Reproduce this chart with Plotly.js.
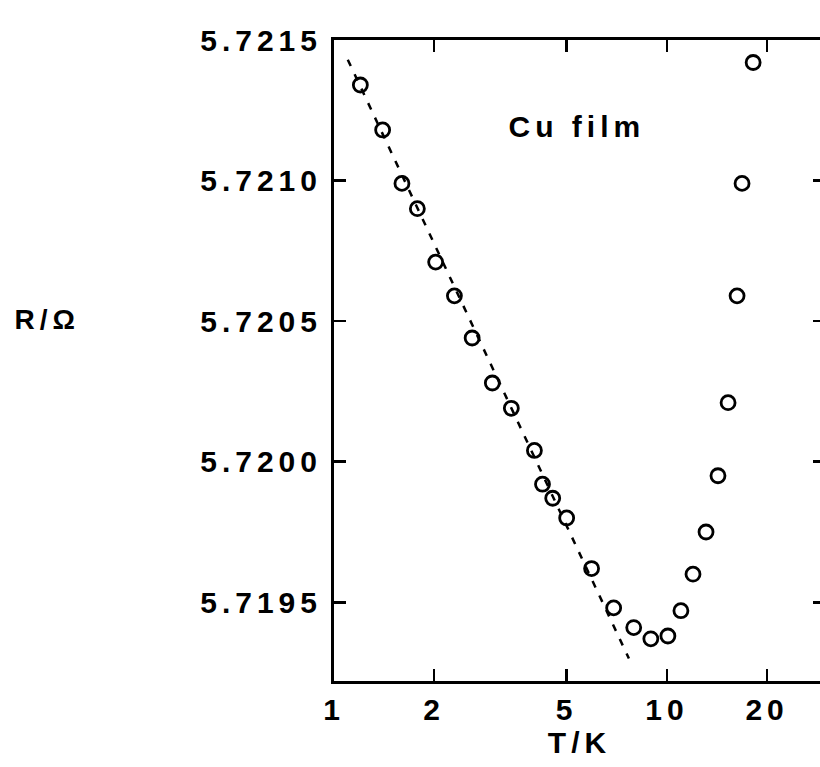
<!DOCTYPE html>
<html>
<head>
<meta charset="utf-8">
<script src="https://cdn.plot.ly/plotly-3.0.1.min.js"></script>
<style>
  html, body { margin: 0; padding: 0; overflow: hidden; background: #fff; }
  #chart { width: 830px; height: 767px; }
  .main-svg text { letter-spacing: 5px; }
</style>
</head>
<body>
<div id="chart"></div>
<script>
// Measured data: temperature T (K) and resistance R (Ohm)
const T = [1.20, 1.40, 1.60, 1.78, 2.02, 2.30, 2.60, 2.99, 3.41, 4.00, 4.23, 4.54, 5.00,
           5.94, 6.92, 7.95, 8.95, 10.07, 11.02, 11.98, 13.11, 14.24, 15.27, 16.25, 16.82, 18.16];
const R = [5.72134, 5.72118, 5.72099, 5.72090, 5.72071, 5.72059, 5.72044, 5.72028, 5.72019,
           5.72004, 5.71992, 5.71987, 5.71980, 5.71962, 5.71948, 5.71941, 5.71937, 5.71938,
           5.71947, 5.71960, 5.71975, 5.71995, 5.72021, 5.72059, 5.72099, 5.72142];
// Logarithmic fit line (dashed)
const fitT = [1.10, 7.69];
const fitR = [5.72143, 5.71930];
// Tick values and labels
const xTicks = [1, 2, 5, 10, 20];
const xTickText = ['1', '2', '5', '10', '20'];
const yTicks = [5.7195, 5.7200, 5.7205, 5.7210, 5.7215];
const yTickText = ['5.7195', '5.7200', '5.7205', '5.7210', '5.7215'];

const FONT = 'Liberation Sans, Arial, sans-serif';

const traces = [
  {
    x: fitT, y: fitR, type: 'scatter', mode: 'lines',
    line: { color: '#000', width: 2.5, dash: '7px,9px' },
    hoverinfo: 'skip', showlegend: false
  },
  {
    x: T, y: R, type: 'scatter', mode: 'markers',
    marker: { symbol: 'circle-open', size: 14, color: '#000', line: { width: 2.8, color: '#000' } },
    showlegend: false
  }
];

const layout = {
  width: 830, height: 767,
  margin: { l: 334, r: 5, t: 40, b: 86 },
  paper_bgcolor: '#fff', plot_bgcolor: '#fff',
  font: { family: FONT, size: 30, color: '#000', weight: 'bold' },
  xaxis: {
    type: 'log', range: [0, 1.475],
    tickvals: xTicks, ticktext: xTickText,
    ticks: 'inside', ticklen: 12, tickwidth: 2.5, tickcolor: '#000',
    showline: true, linewidth: 3, linecolor: '#000', mirror: 'ticks',
    showgrid: false, zeroline: false,
    tickfont: { family: FONT, size: 30, color: '#000', weight: 'bold' },
    ticklabelstandoff: 0,
    title: { text: 'T/K', font: { family: FONT, size: 30, color: '#000', weight: 'bold' }, standoff: 2 }
  },
  yaxis: {
    range: [5.71922, 5.7215],
    tickvals: yTicks, ticktext: yTickText,
    ticks: 'inside', ticklen: 12, tickwidth: 2.5, tickcolor: '#000',
    showline: true, linewidth: 3, linecolor: '#000', mirror: 'ticks',
    showgrid: false, zeroline: false,
    tickfont: { family: FONT, size: 30, color: '#000', weight: 'bold' },
    ticklabelstandoff: 3
  },
  annotations: [
    {
      text: 'Cu film', xref: 'paper', yref: 'paper', x: 0.495, y: 0.865,
      xanchor: 'center', yanchor: 'middle', showarrow: false,
      font: { family: FONT, size: 30, color: '#000', weight: 'bold' }
    },
    {
      text: 'R/Ω', xref: 'paper', yref: 'paper', x: -0.585, y: 0.564,
      xanchor: 'center', yanchor: 'middle', showarrow: false,
      font: { family: FONT, size: 28, color: '#000', weight: 'bold' }
    }
  ]
};

Plotly.newPlot('chart', traces, layout, { displayModeBar: false, staticPlot: true });
</script>
</body>
</html>
